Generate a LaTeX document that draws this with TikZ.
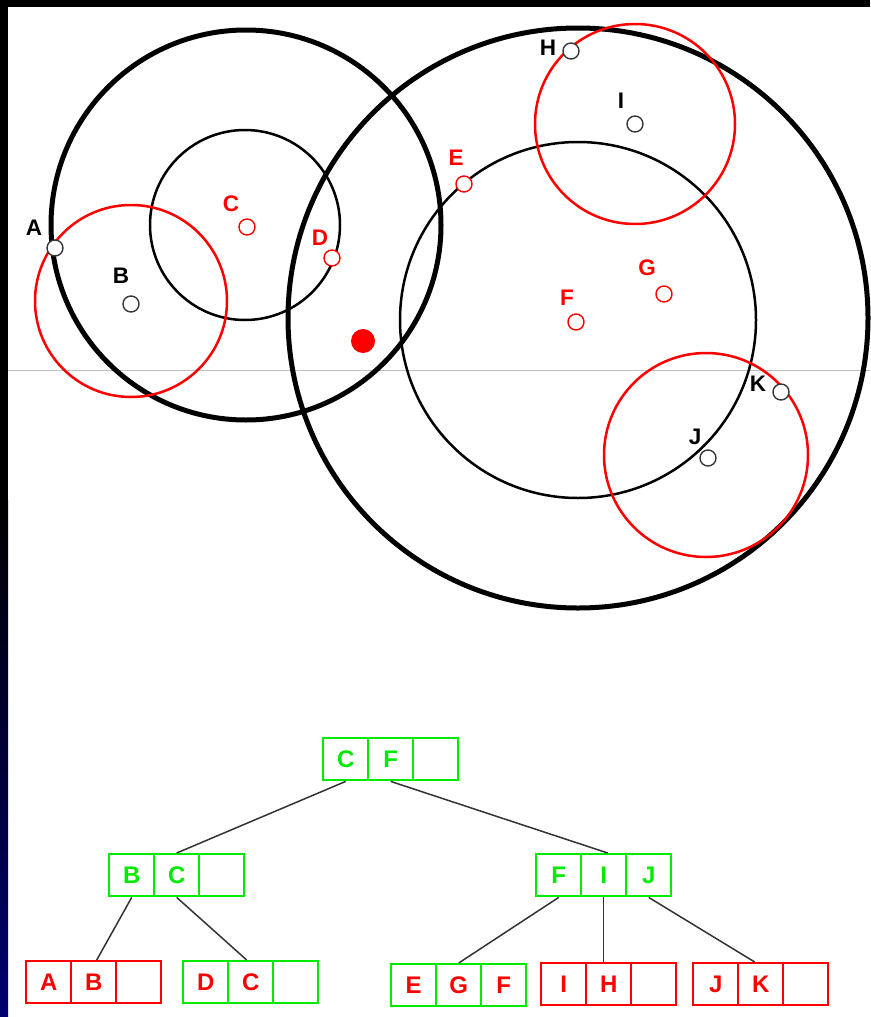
\documentclass[tikz,border=0pt]{standalone}
\usepackage{fontspec}
\setmainfont{Liberation Sans}
\usetikzlibrary{calc}
\definecolor{tgreen}{RGB}{0,235,0}
\definecolor{tred}{RGB}{255,0,0}
\definecolor{ptgray}{RGB}{55,55,55}
\definecolor{navyb}{RGB}{0,0,110}
\tikzset{
  thickc/.style={line width=5pt, draw=black},
  thinc/.style={line width=2.5pt, draw=black},
  redc/.style={line width=2.5pt, draw=tred},
  bpt/.style={circle, draw=ptgray, fill=white, line width=1.4pt, minimum size=16pt, inner sep=0pt},
  rpt/.style={circle, draw=tred, fill=white, line width=1.4pt, minimum size=16pt, inner sep=0pt},
  blab/.style={font=\bfseries\fontsize{22.5}{22.5}\selectfont, text=black, inner sep=0pt},
  rlab/.style={font=\bfseries\fontsize{22.5}{22.5}\selectfont, text=tred, inner sep=0pt},
  cell/.style={rectangle, minimum width=45pt, minimum height=42pt, inner sep=0pt, line width=2.4pt, font=\bfseries\fontsize{24}{24}\selectfont, anchor=north west},
  edge/.style={line width=1.5pt, draw=black!80},
}
\newcommand\btreenode[8]{%
  \node[cell, draw=#4, text=#5] (#1-1) at (#2,#3) {#6};
  \node[cell, draw=#4, text=#5] (#1-2) at (#2+45,#3) {#7};
  \node[cell, draw=#4, text=#5] (#1-3) at (#2+90,#3) {#8};
}
\begin{document}
\begin{tikzpicture}[x=1pt,y=-1pt]
\useasboundingbox (0,0) rectangle (870,1017);
\fill[white] (0,0) rectangle (870,1017);
% frame strips
\fill[black] (0,0) rectangle (870,7);
\fill[black] (0,0) rectangle (8,500);
\shade[top color=black, bottom color=navyb] (0,500) rectangle (8,1017);
% gray horizontal line
\draw[line width=1pt, draw={rgb,255:red,190;green,190;blue,190}] (8,370) -- (870,370);
% circles
\draw[thickc] (246,225) circle[radius=195];
\draw[thinc] (245,225) circle[radius=95];
\draw[redc] (131,301) circle[radius=96];
\draw[thickc] (578,318) circle[radius=290];
\draw[thinc] (578,320) circle[radius=178];
\draw[redc] (635,124) circle[radius=100];
\draw[redc] (706,455) circle[radius=102];
% big red dot
\fill[tred] (363,341) circle[radius=12];
% points
\node[bpt] (A) at (55,248) {};
\node[bpt] (B) at (131,304) {};
\node[rpt] (C) at (247,227) {};
\node[rpt] (D) at (332,258) {};
\node[rpt] (E) at (464,184) {};
\node[rpt] (F) at (576,322) {};
\node[rpt] (G) at (664,294) {};
\node[bpt] (H) at (571,51) {};
\node[bpt] (I) at (635,124) {};
\node[bpt] (J) at (708,458) {};
\node[bpt] (K) at (781,392) {};
% labels
\node[blab] (lA) at (34,228) {A};
\node[blab] (lB) at (121,276) {B};
\node[rlab] (lC) at (231,204) {C};
\node[rlab] (lD) at (320,238) {D};
\node[rlab] (lE) at (456,158) {E};
\node[rlab] (lF) at (567,298) {F};
\node[rlab] (lG) at (647,268) {G};
\node[blab] (lH) at (548,48) {H};
\node[blab] (lI) at (621,101) {I};
\node[blab] (lJ) at (695,437) {J};
\node[blab] (lK) at (758,384) {K};
% tree
\btreenode{root}{322}{737}{tgreen}{tgreen}{C}{F}{}
\btreenode{bc}{108}{853}{tgreen}{tgreen}{B}{C}{}
\btreenode{fij}{535}{853}{tgreen}{tgreen}{F}{I}{J}
\btreenode{ab}{25}{960}{tred}{tred}{A}{B}{}
\btreenode{dc}{182}{960}{tgreen}{tred}{D}{C}{}
\btreenode{egf}{390}{963}{tgreen}{tred}{E}{G}{F}
\btreenode{ih}{540}{962}{tred}{tred}{I}{H}{}
\btreenode{jk}{692}{962}{tred}{tred}{J}{K}{}
\draw[edge] (root-1.south) -- (bc-2.north);
\draw[edge] (root-2.south) -- ($(fij-2.north)+(4,0)$);
\draw[edge] (bc-1.south) -- ($(ab-2.north)+(3,0)$);
\draw[edge] (bc-2.south) -- ($(dc-2.north)+(-4,0)$);
\draw[edge] (fij-1.south) -- (egf-2.north);
\draw[edge] (fij-2.south) -- (fij-2.south |- ih-2.north);
\draw[edge] (fij-3.south) -- ($(jk-2.north)+(-6,0)$);
\end{tikzpicture}
\end{document}
